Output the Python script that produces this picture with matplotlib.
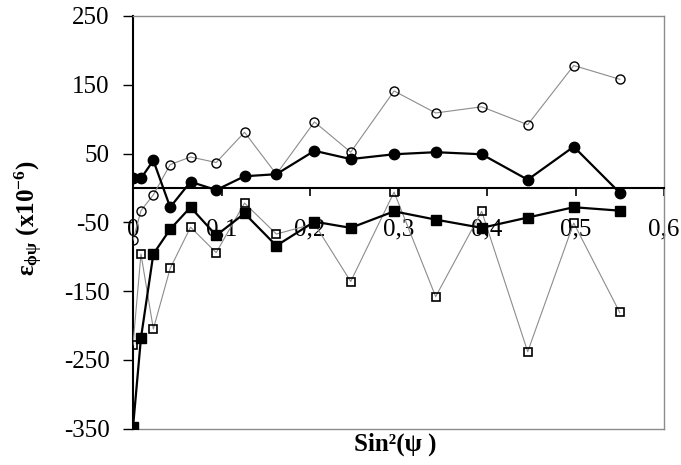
import numpy as np
import matplotlib
matplotlib.use("Agg")
import matplotlib.pyplot as plt

# valores (sin^2(psi) e deformacao x10^-6)
sin2psi = [0, 0.009, 0.023, 0.042, 0.065, 0.094, 0.126, 0.162, 0.205,
           0.246, 0.295, 0.342, 0.394, 0.446, 0.498, 0.55]

circ_aberto = [-76, -33, -10, 34, 45, 37, 81, 20, 96,
               52, 141, 109, 118, 92, 178, 158]
circ_cheio = [14, 14, 40, -28, 9, -3, 17, 20, 54,
              42, 49, 52, 49, 12, 60, -7]
quad_cheio = [-348, -218, -96, -60, -28, -69, -37, -84, -49,
              -58, -34, -46, -58, -43, -28, -33]
quad_aberto = [-228, -96, -205, -117, -57, -94, -22, -67, -52,
               -136, -6, -158, -34, -238, -51, -181]

xticks = [0, 0.1, 0.2, 0.3, 0.4, 0.5, 0.6]
xtick_labels = ['0', '0,1', '0,2', '0,3', '0,4', '0,5', '0,6']
yticks = [-350, -250, -150, -50, 50, 150, 250]

plt.rcParams['font.family'] = ['Liberation Serif', 'DejaVu Serif']
plt.rcParams['axes.unicode_minus'] = False
plt.rcParams['mathtext.fontset'] = 'custom'
plt.rcParams['mathtext.rm'] = 'Liberation Serif'
plt.rcParams['mathtext.it'] = 'Liberation Serif:italic'
plt.rcParams['mathtext.bf'] = 'Liberation Serif:bold'

cinza = '#8c8c8c'

fig = plt.figure(figsize=(6.81, 4.65), dpi=100)
ax = fig.add_axes([133 / 681, 1 - 428.7 / 465, (664 - 133) / 681, (428.7 - 16) / 465])

ax.plot(sin2psi, circ_aberto, color=cinza, lw=0.8, marker='o', ms=6.5,
        mfc='none', mec='black', mew=1.0, zorder=3)
ax.plot(sin2psi, circ_cheio, color='black', lw=1.6, marker='o', ms=7.5,
        mfc='black', mec='black', zorder=3)
ax.plot(sin2psi, quad_aberto, color=cinza, lw=0.8, marker='s', ms=5.8,
        mfc='none', mec='black', mew=1.2, zorder=3)
ax.plot(sin2psi, quad_cheio, color='black', lw=1.6, marker='s', ms=6.5,
        mfc='black', mec='black', zorder=3)

ax.set_xlim(0, 0.6)
ax.set_ylim(-350, 250)

ax.spines['bottom'].set_position(('data', 0))
ax.spines['bottom'].set_color('black')
ax.spines['bottom'].set_linewidth(1.5)
ax.spines['left'].set_color('black')
ax.spines['left'].set_linewidth(1.5)
for lado in ['top', 'right']:
    ax.spines[lado].set_color(cinza)
    ax.spines[lado].set_linewidth(1.0)
ax.plot([0, 0.6], [-350, -350], color=cinza, lw=1.0, clip_on=False, zorder=1)

ax.set_xticks(xticks)
ax.set_xticklabels(xtick_labels)
ax.set_yticks(yticks)
ax.tick_params(axis='x', direction='out', length=6, width=1.2, pad=16, labelsize=18)
ax.tick_params(axis='y', direction='out', length=7, width=1.0, pad=10, labelsize=18)

fig.text(395 / 681, 1 - 444 / 465, 'Sin²(ψ )', fontsize=18,
         fontweight='bold', ha='center', va='center')
fig.text(29 / 681, 1 - 218 / 465,
         r'$\mathbf{\varepsilon}_{\mathbf{\phi\psi}}$ (x10$^{\mathbf{-6}}$)',
         fontsize=18, fontweight='bold', rotation=90, ha='center', va='center')

fig.savefig('out.png', dpi=100)
